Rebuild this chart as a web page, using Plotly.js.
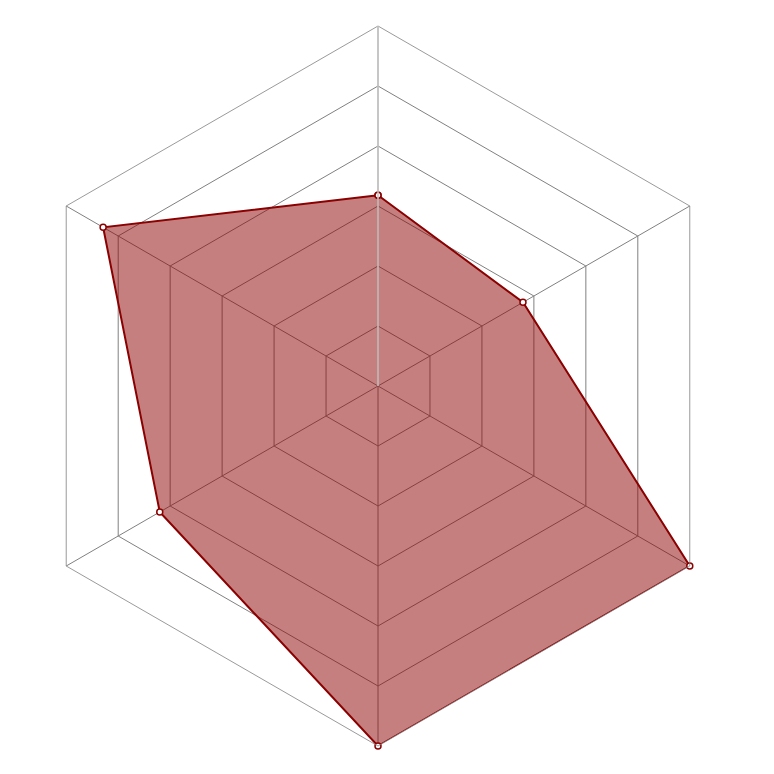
<!DOCTYPE html>
<html>
<head>
<meta charset="utf-8">
<script src="https://cdn.plot.ly/plotly-3.0.1.min.js"></script>
<style>
  html, body { margin: 0; padding: 0; background: #fff; }
  #chart { width: 774px; height: 774px; }
</style>
</head>
<body>
<div id="chart"></div>
<script>
// categories go clockwise from the top
var categories = ['A', 'B', 'C', 'D', 'E', 'F'];
var values = [3.18, 2.79, 6, 6, 4.2, 5.29];

function makeRadar(divId) {
    var trace = {
        type: 'scatterpolar',
        r: values.concat([values[0]]),
        theta: categories.concat([categories[0]]),
        mode: 'lines+markers',
        fill: 'toself',
        fillcolor: 'rgba(139,0,0,0.5)',
        line: {color: '#8b0000', width: 2},
        marker: {symbol: 'circle', size: 6, color: '#ffffff', line: {color: '#8b0000', width: 1.5}},
        hoverinfo: 'skip'
    };

    var layout = {
        width: 774,
        height: 774,
        showlegend: false,
        paper_bgcolor: '#ffffff',
        margin: {l: 18, r: 36, t: 26, b: 28},
        polar: {
            gridshape: 'linear',
            bgcolor: '#ffffff',
            radialaxis: {
                range: [0, 6],
                dtick: 1,
                angle: 90,
                showticklabels: false,
                ticks: '',
                showline: true,
                linecolor: '#c8c8c8',
                linewidth: 1.5,
                gridcolor: '#808080',
                gridwidth: 0.8
            },
            angularaxis: {
                direction: 'clockwise',
                rotation: 90,
                showticklabels: false,
                ticks: '',
                showline: true,
                linecolor: '#808080',
                linewidth: 0.8,
                gridcolor: '#808080',
                gridwidth: 0.8
            }
        }
    };

    Plotly.newPlot(divId, [trace], layout, {displayModeBar: false});
}

makeRadar('chart');
</script>
</body>
</html>
